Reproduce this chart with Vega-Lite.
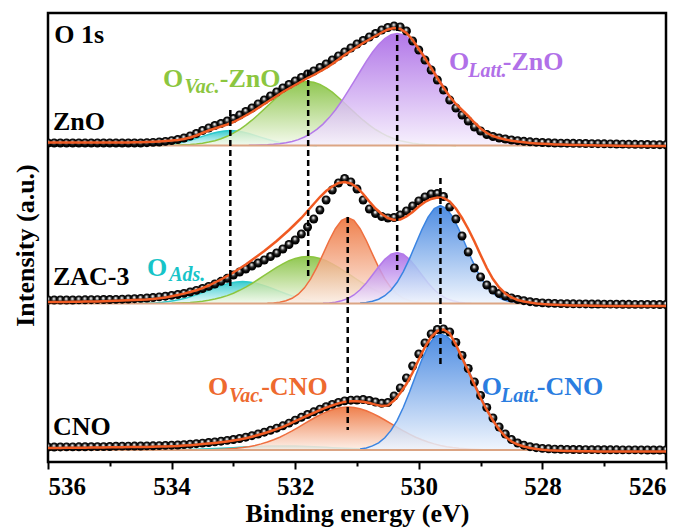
{
"$schema":"https://vega.github.io/schema/vega-lite/v6.json",
"width":618,"height":449,
"autosize":{"type":"none"},
"padding":{"left":48,"top":13,"right":24,"bottom":67},
"background":"white",
"config":{"view":{"stroke":"black","strokeWidth":2.5}},
"datasets":{
"fit":[
{"E":536,"ZnO":319.5,"ZAC":160,"CNO":14},{"E":535.9,"ZnO":319.5,"ZAC":160,"CNO":14.05},{"E":535.8,"ZnO":319.5,"ZAC":160.1,"CNO":14.1},{"E":535.7,"ZnO":319.5,"ZAC":160.1,"CNO":14.15},{"E":535.6,"ZnO":319.5,"ZAC":160.2,"CNO":14.2},{"E":535.5,"ZnO":319.5,"ZAC":160.3,"CNO":14.25},{"E":535.4,"ZnO":319.5,"ZAC":160.4,"CNO":14.3},{"E":535.3,"ZnO":319.5,"ZAC":160.5,"CNO":14.4},{"E":535.2,"ZnO":319.5,"ZAC":160.6,"CNO":14.5},{"E":535.1,"ZnO":319.5,"ZAC":160.8,"CNO":14.6},
{"E":535,"ZnO":319.5,"ZAC":161,"CNO":14.7},{"E":534.9,"ZnO":319.5,"ZAC":161.2,"CNO":14.8},{"E":534.8,"ZnO":319.5,"ZAC":161.4,"CNO":14.85},{"E":534.7,"ZnO":319.6,"ZAC":161.7,"CNO":14.9},{"E":534.6,"ZnO":319.7,"ZAC":162,"CNO":14.95},{"E":534.5,"ZnO":319.8,"ZAC":162.3,"CNO":15},{"E":534.4,"ZnO":320,"ZAC":162.5,"CNO":15.1},{"E":534.3,"ZnO":320.2,"ZAC":163,"CNO":15.2},{"E":534.2,"ZnO":320.5,"ZAC":163.7,"CNO":15.4},{"E":534.1,"ZnO":320.9,"ZAC":164.6,"CNO":15.6},
{"E":534,"ZnO":321.4,"ZAC":165.7,"CNO":15.8},{"E":533.9,"ZnO":322.1,"ZAC":167,"CNO":16},{"E":533.8,"ZnO":323.1,"ZAC":168.4,"CNO":16.4},{"E":533.7,"ZnO":324.5,"ZAC":170,"CNO":16.8},{"E":533.6,"ZnO":326.5,"ZAC":171.8,"CNO":17.3},{"E":533.5,"ZnO":329,"ZAC":173.8,"CNO":17.9},{"E":533.4,"ZnO":331.5,"ZAC":176.5,"CNO":18.5},{"E":533.3,"ZnO":333.5,"ZAC":179.5,"CNO":19.1},{"E":533.2,"ZnO":335.5,"ZAC":182.5,"CNO":19.8},{"E":533.1,"ZnO":337.5,"ZAC":186,"CNO":20.6},
{"E":533,"ZnO":340,"ZAC":189.5,"CNO":21.5},{"E":532.9,"ZnO":343,"ZAC":193.5,"CNO":22.5},{"E":532.8,"ZnO":346.5,"ZAC":197.5,"CNO":23.8},{"E":532.7,"ZnO":350,"ZAC":202,"CNO":25.3},{"E":532.6,"ZnO":354,"ZAC":206.5,"CNO":27},{"E":532.5,"ZnO":358,"ZAC":211,"CNO":28.8},{"E":532.4,"ZnO":362,"ZAC":216,"CNO":30.7},{"E":532.3,"ZnO":366,"ZAC":221,"CNO":32.8},{"E":532.2,"ZnO":370,"ZAC":226.5,"CNO":35.2},{"E":532.1,"ZnO":373.5,"ZAC":232,"CNO":37.9},
{"E":532,"ZnO":377,"ZAC":238,"CNO":40.8},{"E":531.9,"ZnO":380.5,"ZAC":244,"CNO":43.7},{"E":531.8,"ZnO":384,"ZAC":251,"CNO":46.5},{"E":531.7,"ZnO":387,"ZAC":258,"CNO":49.2},{"E":531.6,"ZnO":390.5,"ZAC":265,"CNO":51.8},{"E":531.5,"ZnO":394,"ZAC":271,"CNO":54.3},{"E":531.4,"ZnO":398,"ZAC":275.5,"CNO":56.6},{"E":531.3,"ZnO":402.5,"ZAC":279,"CNO":58.6},{"E":531.2,"ZnO":407,"ZAC":280,"CNO":60.1},{"E":531.1,"ZnO":411,"ZAC":278.5,"CNO":60.8},
{"E":531,"ZnO":415,"ZAC":274.5,"CNO":60.8},{"E":530.9,"ZnO":419,"ZAC":268,"CNO":60.2},{"E":530.8,"ZnO":422.5,"ZAC":260.5,"CNO":59},{"E":530.7,"ZnO":426,"ZAC":253.5,"CNO":57.4},{"E":530.6,"ZnO":429.5,"ZAC":248,"CNO":56},{"E":530.5,"ZnO":432.5,"ZAC":244,"CNO":56.6},{"E":530.4,"ZnO":434,"ZAC":242,"CNO":61.5},{"E":530.3,"ZnO":433,"ZAC":242.5,"CNO":69},{"E":530.2,"ZnO":429,"ZAC":245.5,"CNO":78},{"E":530.1,"ZnO":422,"ZAC":250,"CNO":89.5},
{"E":530,"ZnO":413,"ZAC":255.5,"CNO":102.5},{"E":529.9,"ZnO":404,"ZAC":260,"CNO":115},{"E":529.8,"ZnO":394,"ZAC":263,"CNO":125},{"E":529.7,"ZnO":384,"ZAC":264.5,"CNO":131},{"E":529.6,"ZnO":374.5,"ZAC":264,"CNO":132.5},{"E":529.5,"ZnO":365.5,"ZAC":260.5,"CNO":128.5},{"E":529.4,"ZnO":358,"ZAC":253.5,"CNO":117.5},{"E":529.3,"ZnO":352,"ZAC":244,"CNO":104},{"E":529.2,"ZnO":346,"ZAC":233,"CNO":91},{"E":529.1,"ZnO":339.5,"ZAC":220.5,"CNO":77.5},
{"E":529,"ZnO":333.5,"ZAC":207,"CNO":64},{"E":528.9,"ZnO":329,"ZAC":194,"CNO":52},{"E":528.8,"ZnO":326,"ZAC":183,"CNO":41.5},{"E":528.7,"ZnO":324,"ZAC":174.5,"CNO":32.5},{"E":528.6,"ZnO":322.5,"ZAC":168.5,"CNO":25.5},{"E":528.5,"ZnO":321.3,"ZAC":164.5,"CNO":20.5},{"E":528.4,"ZnO":320.4,"ZAC":162,"CNO":17.5},{"E":528.3,"ZnO":319.7,"ZAC":160.5,"CNO":15.5},{"E":528.2,"ZnO":319.1,"ZAC":159.4,"CNO":14},{"E":528.1,"ZnO":318.6,"ZAC":158.6,"CNO":13},
{"E":528,"ZnO":318.2,"ZAC":158,"CNO":12.3},{"E":527.9,"ZnO":317.9,"ZAC":157.6,"CNO":11.8},{"E":527.8,"ZnO":317.6,"ZAC":157.3,"CNO":11.5},{"E":527.7,"ZnO":317.4,"ZAC":157,"CNO":11.2},{"E":527.6,"ZnO":317.2,"ZAC":156.8,"CNO":11},{"E":527.5,"ZnO":317,"ZAC":156.6,"CNO":10.9},{"E":527.4,"ZnO":316.9,"ZAC":156.5,"CNO":10.8},{"E":527.3,"ZnO":316.8,"ZAC":156.4,"CNO":10.7},{"E":527.2,"ZnO":316.7,"ZAC":156.3,"CNO":10.65},{"E":527.1,"ZnO":316.6,"ZAC":156.2,"CNO":10.6},
{"E":527,"ZnO":316.5,"ZAC":156.1,"CNO":10.55},{"E":526.9,"ZnO":316.4,"ZAC":156,"CNO":10.5},{"E":526.8,"ZnO":316.3,"ZAC":156,"CNO":10.5},{"E":526.7,"ZnO":316.2,"ZAC":156,"CNO":10.5},{"E":526.6,"ZnO":316.1,"ZAC":156,"CNO":10.5},{"E":526.5,"ZnO":316,"ZAC":156,"CNO":10.5},{"E":526.4,"ZnO":316,"ZAC":156,"CNO":10.5},{"E":526.3,"ZnO":316,"ZAC":156,"CNO":10.5},{"E":526.2,"ZnO":316,"ZAC":156,"CNO":10.5},{"E":526.1,"ZnO":316,"ZAC":156,"CNO":10.5},{"E":526,"ZnO":316,"ZAC":156,"CNO":10.5}
],
"obs":[
{"E":536,"ZnO":319,"ZAC":162,"CNO":15},{"E":535.9,"ZnO":319,"ZAC":162,"CNO":15},{"E":535.8,"ZnO":319,"ZAC":162,"CNO":15.05},{"E":535.7,"ZnO":319,"ZAC":162,"CNO":15.1},{"E":535.6,"ZnO":319,"ZAC":162,"CNO":15.15},{"E":535.5,"ZnO":319,"ZAC":162.1,"CNO":15.2},{"E":535.4,"ZnO":319,"ZAC":162.2,"CNO":15.25},{"E":535.3,"ZnO":319,"ZAC":162.3,"CNO":15.3},{"E":535.2,"ZnO":319,"ZAC":162.4,"CNO":15.35},{"E":535.1,"ZnO":319,"ZAC":162.5,"CNO":15.4},
{"E":535,"ZnO":319,"ZAC":162.5,"CNO":15.5},{"E":534.9,"ZnO":319,"ZAC":162.6,"CNO":15.8},{"E":534.8,"ZnO":319,"ZAC":162.8,"CNO":15.85},{"E":534.7,"ZnO":319,"ZAC":163,"CNO":15.9},{"E":534.6,"ZnO":319,"ZAC":163.3,"CNO":15.95},{"E":534.5,"ZnO":319,"ZAC":163.6,"CNO":16},{"E":534.4,"ZnO":319.3,"ZAC":164,"CNO":16.1},{"E":534.3,"ZnO":319.6,"ZAC":164.5,"CNO":16.2},{"E":534.2,"ZnO":320,"ZAC":165.1,"CNO":16.4},{"E":534.1,"ZnO":320.6,"ZAC":165.8,"CNO":16.6},
{"E":534,"ZnO":321.4,"ZAC":166.6,"CNO":16.8},{"E":533.9,"ZnO":322.5,"ZAC":167.5,"CNO":17},{"E":533.8,"ZnO":324,"ZAC":168.6,"CNO":17.4},{"E":533.7,"ZnO":326,"ZAC":170,"CNO":17.8},{"E":533.6,"ZnO":328.5,"ZAC":171.6,"CNO":18.3},{"E":533.5,"ZnO":331.5,"ZAC":173.5,"CNO":18.9},{"E":533.4,"ZnO":334,"ZAC":175.6,"CNO":19.5},{"E":533.3,"ZnO":336.5,"ZAC":178,"CNO":20.1},{"E":533.2,"ZnO":338.5,"ZAC":180.7,"CNO":20.8},{"E":533.1,"ZnO":341,"ZAC":183.7,"CNO":21.6},
{"E":533,"ZnO":343.5,"ZAC":187,"CNO":22.5},{"E":532.9,"ZnO":347,"ZAC":190,"CNO":23.5},{"E":532.8,"ZnO":350.5,"ZAC":193,"CNO":24.8},{"E":532.7,"ZnO":354,"ZAC":196,"CNO":26.3},{"E":532.6,"ZnO":358,"ZAC":199,"CNO":28},{"E":532.5,"ZnO":362,"ZAC":202,"CNO":29.8},{"E":532.4,"ZnO":366,"ZAC":205.5,"CNO":31.7},{"E":532.3,"ZnO":370,"ZAC":209,"CNO":33.8},{"E":532.2,"ZnO":374,"ZAC":213,"CNO":36.2},{"E":532.1,"ZnO":377.5,"ZAC":217.5,"CNO":38.9},
{"E":532,"ZnO":381,"ZAC":222,"CNO":41.8},{"E":531.9,"ZnO":384.5,"ZAC":228,"CNO":44.7},{"E":531.8,"ZnO":388,"ZAC":235,"CNO":47.5},{"E":531.7,"ZnO":391,"ZAC":243,"CNO":50.2},{"E":531.6,"ZnO":394.5,"ZAC":252,"CNO":52.8},{"E":531.5,"ZnO":398,"ZAC":262,"CNO":55.3},{"E":531.4,"ZnO":402,"ZAC":272,"CNO":57.6},{"E":531.3,"ZnO":406,"ZAC":279,"CNO":59.6},{"E":531.2,"ZnO":410,"ZAC":283.5,"CNO":61.1},{"E":531.1,"ZnO":414,"ZAC":280,"CNO":61.8},
{"E":531,"ZnO":418,"ZAC":273,"CNO":62},{"E":530.9,"ZnO":421.5,"ZAC":262,"CNO":62.5},{"E":530.8,"ZnO":425,"ZAC":253,"CNO":61.5},{"E":530.7,"ZnO":428.5,"ZAC":248.5,"CNO":60},{"E":530.6,"ZnO":432,"ZAC":245.5,"CNO":58.7},{"E":530.5,"ZnO":434.5,"ZAC":244,"CNO":59.5},{"E":530.4,"ZnO":436,"ZAC":244.5,"CNO":66},{"E":530.3,"ZnO":435,"ZAC":247,"CNO":74},{"E":530.2,"ZnO":431,"ZAC":251,"CNO":84},{"E":530.1,"ZnO":421,"ZAC":256,"CNO":96},
{"E":530,"ZnO":412,"ZAC":261,"CNO":108},{"E":529.9,"ZnO":402,"ZAC":265,"CNO":119},{"E":529.8,"ZnO":392,"ZAC":268,"CNO":128},{"E":529.7,"ZnO":382,"ZAC":268.5,"CNO":132.5},{"E":529.6,"ZnO":372,"ZAC":265.5,"CNO":133},{"E":529.5,"ZnO":362,"ZAC":255,"CNO":130},{"E":529.4,"ZnO":354,"ZAC":243,"CNO":119.5},{"E":529.3,"ZnO":347,"ZAC":226,"CNO":106.5},{"E":529.2,"ZnO":341,"ZAC":210,"CNO":93.5},{"E":529.1,"ZnO":335,"ZAC":194,"CNO":80},
{"E":529,"ZnO":331,"ZAC":185,"CNO":66.5},{"E":528.9,"ZnO":327.5,"ZAC":177,"CNO":54.5},{"E":528.8,"ZnO":325.5,"ZAC":172,"CNO":44},{"E":528.7,"ZnO":324,"ZAC":168.5,"CNO":35},{"E":528.6,"ZnO":323,"ZAC":166,"CNO":28},{"E":528.5,"ZnO":322,"ZAC":164,"CNO":22.5},{"E":528.4,"ZnO":321.3,"ZAC":162.5,"CNO":19},{"E":528.3,"ZnO":320.7,"ZAC":161.3,"CNO":16.8},{"E":528.2,"ZnO":320.2,"ZAC":160.3,"CNO":15.3},{"E":528.1,"ZnO":319.8,"ZAC":159.6,"CNO":14.3},
{"E":528,"ZnO":319.5,"ZAC":159.1,"CNO":13.6},{"E":527.9,"ZnO":319.2,"ZAC":158.8,"CNO":13.2},{"E":527.8,"ZnO":319,"ZAC":158.6,"CNO":12.9},{"E":527.7,"ZnO":318.9,"ZAC":158.4,"CNO":12.7},{"E":527.6,"ZnO":318.8,"ZAC":158.3,"CNO":12.6},{"E":527.5,"ZnO":318.7,"ZAC":158.2,"CNO":12.5},{"E":527.4,"ZnO":318.6,"ZAC":158.1,"CNO":12.45},{"E":527.3,"ZnO":318.5,"ZAC":158.05,"CNO":12.4},{"E":527.2,"ZnO":318.4,"ZAC":158,"CNO":12.35},{"E":527.1,"ZnO":318.3,"ZAC":157.95,"CNO":12.3},
{"E":527,"ZnO":318.2,"ZAC":157.9,"CNO":12.25},{"E":526.9,"ZnO":318.1,"ZAC":157.85,"CNO":12.2},{"E":526.8,"ZnO":318,"ZAC":157.8,"CNO":12.2},{"E":526.7,"ZnO":317.9,"ZAC":157.75,"CNO":12.15},{"E":526.6,"ZnO":317.8,"ZAC":157.7,"CNO":12.1},{"E":526.5,"ZnO":317.7,"ZAC":157.65,"CNO":12.1},{"E":526.4,"ZnO":317.6,"ZAC":157.6,"CNO":12.05},{"E":526.3,"ZnO":317.5,"ZAC":157.6,"CNO":12},{"E":526.2,"ZnO":317.4,"ZAC":157.55,"CNO":12},{"E":526.1,"ZnO":317.3,"ZAC":157.5,"CNO":12},{"E":526,"ZnO":317.2,"ZAC":157.5,"CNO":12}
],
"cmp":[
{"s":"ZnO","t":"ads","b":316.5,"E":534.45,"v":316.62},{"s":"ZnO","t":"ads","b":316.5,"E":534.35,"v":316.73},{"s":"ZnO","t":"ads","b":316.5,"E":534.25,"v":316.93},{"s":"ZnO","t":"ads","b":316.5,"E":534.15,"v":317.25},{"s":"ZnO","t":"ads","b":316.5,"E":534.05,"v":317.8},{"s":"ZnO","t":"ads","b":316.5,"E":533.95,"v":318.5},{"s":"ZnO","t":"ads","b":316.5,"E":533.85,"v":319.6},{"s":"ZnO","t":"ads","b":316.5,"E":533.75,"v":321},{"s":"ZnO","t":"ads","b":316.5,"E":533.65,"v":322.7},{"s":"ZnO","t":"ads","b":316.5,"E":533.55,"v":324.6},{"s":"ZnO","t":"ads","b":316.5,"E":533.45,"v":326.6},{"s":"ZnO","t":"ads","b":316.5,"E":533.35,"v":328.5},{"s":"ZnO","t":"ads","b":316.5,"E":533.25,"v":330.1},{"s":"ZnO","t":"ads","b":316.5,"E":533.15,"v":331.1},{"s":"ZnO","t":"ads","b":316.5,"E":533.05,"v":331.5},{"s":"ZnO","t":"ads","b":316.5,"E":532.95,"v":331.1},{"s":"ZnO","t":"ads","b":316.5,"E":532.85,"v":330.1},{"s":"ZnO","t":"ads","b":316.5,"E":532.75,"v":328.5},{"s":"ZnO","t":"ads","b":316.5,"E":532.65,"v":326.6},{"s":"ZnO","t":"ads","b":316.5,"E":532.55,"v":324.6},{"s":"ZnO","t":"ads","b":316.5,"E":532.45,"v":322.7},{"s":"ZnO","t":"ads","b":316.5,"E":532.35,"v":321},{"s":"ZnO","t":"ads","b":316.5,"E":532.25,"v":319.6},{"s":"ZnO","t":"ads","b":316.5,"E":532.15,"v":318.5},{"s":"ZnO","t":"ads","b":316.5,"E":532.05,"v":317.8},{"s":"ZnO","t":"ads","b":316.5,"E":531.95,"v":317.25},{"s":"ZnO","t":"ads","b":316.5,"E":531.85,"v":316.93},{"s":"ZnO","t":"ads","b":316.5,"E":531.75,"v":316.73},{"s":"ZnO","t":"ads","b":316.5,"E":531.65,"v":316.62},
{"s":"ZnO","t":"vac","b":316.5,"E":534.2,"v":316.6},{"s":"ZnO","t":"vac","b":316.5,"E":534.1,"v":316.65},{"s":"ZnO","t":"vac","b":316.5,"E":534,"v":316.75},{"s":"ZnO","t":"vac","b":316.5,"E":533.9,"v":316.9},{"s":"ZnO","t":"vac","b":316.5,"E":533.8,"v":317.2},{"s":"ZnO","t":"vac","b":316.5,"E":533.7,"v":317.5},{"s":"ZnO","t":"vac","b":316.5,"E":533.6,"v":318},{"s":"ZnO","t":"vac","b":316.5,"E":533.5,"v":318.8},{"s":"ZnO","t":"vac","b":316.5,"E":533.4,"v":319.9},{"s":"ZnO","t":"vac","b":316.5,"E":533.3,"v":321.3},{"s":"ZnO","t":"vac","b":316.5,"E":533.2,"v":323.2},{"s":"ZnO","t":"vac","b":316.5,"E":533.1,"v":325.7},{"s":"ZnO","t":"vac","b":316.5,"E":533,"v":328.8},{"s":"ZnO","t":"vac","b":316.5,"E":532.9,"v":332.5},{"s":"ZnO","t":"vac","b":316.5,"E":532.8,"v":336.8},{"s":"ZnO","t":"vac","b":316.5,"E":532.7,"v":341.8},{"s":"ZnO","t":"vac","b":316.5,"E":532.6,"v":347.2},{"s":"ZnO","t":"vac","b":316.5,"E":532.5,"v":353},{"s":"ZnO","t":"vac","b":316.5,"E":532.4,"v":358.8},{"s":"ZnO","t":"vac","b":316.5,"E":532.3,"v":364.5},{"s":"ZnO","t":"vac","b":316.5,"E":532.2,"v":369.8},{"s":"ZnO","t":"vac","b":316.5,"E":532.1,"v":374.2},{"s":"ZnO","t":"vac","b":316.5,"E":532,"v":377.6},{"s":"ZnO","t":"vac","b":316.5,"E":531.9,"v":379.8},{"s":"ZnO","t":"vac","b":316.5,"E":531.8,"v":380.5},{"s":"ZnO","t":"vac","b":316.5,"E":531.7,"v":379.8},{"s":"ZnO","t":"vac","b":316.5,"E":531.6,"v":377.6},{"s":"ZnO","t":"vac","b":316.5,"E":531.5,"v":374.2},{"s":"ZnO","t":"vac","b":316.5,"E":531.4,"v":369.8},{"s":"ZnO","t":"vac","b":316.5,"E":531.3,"v":364.5},{"s":"ZnO","t":"vac","b":316.5,"E":531.2,"v":358.8},{"s":"ZnO","t":"vac","b":316.5,"E":531.1,"v":353},{"s":"ZnO","t":"vac","b":316.5,"E":531,"v":347.2},{"s":"ZnO","t":"vac","b":316.5,"E":530.9,"v":341.8},{"s":"ZnO","t":"vac","b":316.5,"E":530.8,"v":336.8},{"s":"ZnO","t":"vac","b":316.5,"E":530.7,"v":332.5},{"s":"ZnO","t":"vac","b":316.5,"E":530.6,"v":328.8},{"s":"ZnO","t":"vac","b":316.5,"E":530.5,"v":325.7},{"s":"ZnO","t":"vac","b":316.5,"E":530.4,"v":323.2},{"s":"ZnO","t":"vac","b":316.5,"E":530.3,"v":321.3},{"s":"ZnO","t":"vac","b":316.5,"E":530.2,"v":319.9},{"s":"ZnO","t":"vac","b":316.5,"E":530.1,"v":318.8},{"s":"ZnO","t":"vac","b":316.5,"E":530,"v":318},{"s":"ZnO","t":"vac","b":316.5,"E":529.9,"v":317.5},{"s":"ZnO","t":"vac","b":316.5,"E":529.8,"v":317.2},{"s":"ZnO","t":"vac","b":316.5,"E":529.7,"v":316.9},{"s":"ZnO","t":"vac","b":316.5,"E":529.6,"v":316.75},{"s":"ZnO","t":"vac","b":316.5,"E":529.5,"v":316.65},{"s":"ZnO","t":"vac","b":316.5,"E":529.4,"v":316.6},
{"s":"ZnO","t":"latt","b":316.5,"E":532.75,"v":316.66},{"s":"ZnO","t":"latt","b":316.5,"E":532.65,"v":316.76},{"s":"ZnO","t":"latt","b":316.5,"E":532.55,"v":316.94},{"s":"ZnO","t":"latt","b":316.5,"E":532.45,"v":317.21},{"s":"ZnO","t":"latt","b":316.5,"E":532.35,"v":317.63},{"s":"ZnO","t":"latt","b":316.5,"E":532.25,"v":318.27},{"s":"ZnO","t":"latt","b":316.5,"E":532.15,"v":319.2},{"s":"ZnO","t":"latt","b":316.5,"E":532.05,"v":320.55},{"s":"ZnO","t":"latt","b":316.5,"E":531.95,"v":322.4},{"s":"ZnO","t":"latt","b":316.5,"E":531.85,"v":325},{"s":"ZnO","t":"latt","b":316.5,"E":531.75,"v":328.3},{"s":"ZnO","t":"latt","b":316.5,"E":531.65,"v":332.6},{"s":"ZnO","t":"latt","b":316.5,"E":531.55,"v":337.9},{"s":"ZnO","t":"latt","b":316.5,"E":531.45,"v":344.4},{"s":"ZnO","t":"latt","b":316.5,"E":531.35,"v":352},{"s":"ZnO","t":"latt","b":316.5,"E":531.25,"v":360.7},{"s":"ZnO","t":"latt","b":316.5,"E":531.15,"v":370.3},{"s":"ZnO","t":"latt","b":316.5,"E":531.05,"v":380.3},{"s":"ZnO","t":"latt","b":316.5,"E":530.95,"v":390.5},{"s":"ZnO","t":"latt","b":316.5,"E":530.85,"v":400.6},{"s":"ZnO","t":"latt","b":316.5,"E":530.75,"v":409.7},{"s":"ZnO","t":"latt","b":316.5,"E":530.65,"v":417.5},{"s":"ZnO","t":"latt","b":316.5,"E":530.55,"v":423.5},{"s":"ZnO","t":"latt","b":316.5,"E":530.45,"v":427.2},{"s":"ZnO","t":"latt","b":316.5,"E":530.35,"v":428.5},{"s":"ZnO","t":"latt","b":316.5,"E":530.25,"v":427.2},{"s":"ZnO","t":"latt","b":316.5,"E":530.15,"v":423.5},{"s":"ZnO","t":"latt","b":316.5,"E":530.05,"v":417.5},{"s":"ZnO","t":"latt","b":316.5,"E":529.95,"v":409.7},{"s":"ZnO","t":"latt","b":316.5,"E":529.85,"v":400.6},{"s":"ZnO","t":"latt","b":316.5,"E":529.75,"v":390.5},{"s":"ZnO","t":"latt","b":316.5,"E":529.65,"v":380.3},{"s":"ZnO","t":"latt","b":316.5,"E":529.55,"v":370.3},{"s":"ZnO","t":"latt","b":316.5,"E":529.45,"v":360.7},{"s":"ZnO","t":"latt","b":316.5,"E":529.35,"v":352},{"s":"ZnO","t":"latt","b":316.5,"E":529.25,"v":344.4},{"s":"ZnO","t":"latt","b":316.5,"E":529.15,"v":337.9},{"s":"ZnO","t":"latt","b":316.5,"E":529.05,"v":332.6},{"s":"ZnO","t":"latt","b":316.5,"E":528.95,"v":328.3},{"s":"ZnO","t":"latt","b":316.5,"E":528.85,"v":325},{"s":"ZnO","t":"latt","b":316.5,"E":528.75,"v":322.4},{"s":"ZnO","t":"latt","b":316.5,"E":528.65,"v":320.55},{"s":"ZnO","t":"latt","b":316.5,"E":528.55,"v":319.2},{"s":"ZnO","t":"latt","b":316.5,"E":528.45,"v":318.27},{"s":"ZnO","t":"latt","b":316.5,"E":528.35,"v":317.63},{"s":"ZnO","t":"latt","b":316.5,"E":528.25,"v":317.21},{"s":"ZnO","t":"latt","b":316.5,"E":528.15,"v":316.94},{"s":"ZnO","t":"latt","b":316.5,"E":528.05,"v":316.76},{"s":"ZnO","t":"latt","b":316.5,"E":527.95,"v":316.66},
{"s":"ZAC","t":"ads","b":158.5,"E":534.55,"v":158.7},{"s":"ZAC","t":"ads","b":158.5,"E":534.45,"v":158.8},{"s":"ZAC","t":"ads","b":158.5,"E":534.35,"v":159},{"s":"ZAC","t":"ads","b":158.5,"E":534.25,"v":159.3},{"s":"ZAC","t":"ads","b":158.5,"E":534.15,"v":159.8},{"s":"ZAC","t":"ads","b":158.5,"E":534.05,"v":160.5},{"s":"ZAC","t":"ads","b":158.5,"E":533.95,"v":161.4},{"s":"ZAC","t":"ads","b":158.5,"E":533.85,"v":162.7},{"s":"ZAC","t":"ads","b":158.5,"E":533.75,"v":164.2},{"s":"ZAC","t":"ads","b":158.5,"E":533.65,"v":166.1},{"s":"ZAC","t":"ads","b":158.5,"E":533.55,"v":168.2},{"s":"ZAC","t":"ads","b":158.5,"E":533.45,"v":170.6},{"s":"ZAC","t":"ads","b":158.5,"E":533.35,"v":173},{"s":"ZAC","t":"ads","b":158.5,"E":533.25,"v":175.4},{"s":"ZAC","t":"ads","b":158.5,"E":533.15,"v":177.4},{"s":"ZAC","t":"ads","b":158.5,"E":533.05,"v":179.1},{"s":"ZAC","t":"ads","b":158.5,"E":532.95,"v":180.1},{"s":"ZAC","t":"ads","b":158.5,"E":532.85,"v":180.5},{"s":"ZAC","t":"ads","b":158.5,"E":532.75,"v":180.1},{"s":"ZAC","t":"ads","b":158.5,"E":532.65,"v":179.1},{"s":"ZAC","t":"ads","b":158.5,"E":532.55,"v":177.4},{"s":"ZAC","t":"ads","b":158.5,"E":532.45,"v":175.4},{"s":"ZAC","t":"ads","b":158.5,"E":532.35,"v":173},{"s":"ZAC","t":"ads","b":158.5,"E":532.25,"v":170.6},{"s":"ZAC","t":"ads","b":158.5,"E":532.15,"v":168.2},{"s":"ZAC","t":"ads","b":158.5,"E":532.05,"v":166.1},{"s":"ZAC","t":"ads","b":158.5,"E":531.95,"v":164.2},{"s":"ZAC","t":"ads","b":158.5,"E":531.85,"v":162.7},{"s":"ZAC","t":"ads","b":158.5,"E":531.75,"v":161.4},{"s":"ZAC","t":"ads","b":158.5,"E":531.65,"v":160.5},{"s":"ZAC","t":"ads","b":158.5,"E":531.55,"v":159.8},{"s":"ZAC","t":"ads","b":158.5,"E":531.45,"v":159.3},{"s":"ZAC","t":"ads","b":158.5,"E":531.35,"v":159},{"s":"ZAC","t":"ads","b":158.5,"E":531.25,"v":158.8},{"s":"ZAC","t":"ads","b":158.5,"E":531.15,"v":158.7},
{"s":"ZAC","t":"vac","b":158.5,"E":534,"v":158.8},{"s":"ZAC","t":"vac","b":158.5,"E":533.9,"v":159},{"s":"ZAC","t":"vac","b":158.5,"E":533.8,"v":159.2},{"s":"ZAC","t":"vac","b":158.5,"E":533.7,"v":159.5},{"s":"ZAC","t":"vac","b":158.5,"E":533.6,"v":160.1},{"s":"ZAC","t":"vac","b":158.5,"E":533.5,"v":160.8},{"s":"ZAC","t":"vac","b":158.5,"E":533.4,"v":161.7},{"s":"ZAC","t":"vac","b":158.5,"E":533.3,"v":162.9},{"s":"ZAC","t":"vac","b":158.5,"E":533.2,"v":164.5},{"s":"ZAC","t":"vac","b":158.5,"E":533.1,"v":166.4},{"s":"ZAC","t":"vac","b":158.5,"E":533,"v":168.8},{"s":"ZAC","t":"vac","b":158.5,"E":532.9,"v":171.7},{"s":"ZAC","t":"vac","b":158.5,"E":532.8,"v":174.9},{"s":"ZAC","t":"vac","b":158.5,"E":532.7,"v":178.5},{"s":"ZAC","t":"vac","b":158.5,"E":532.6,"v":182.5},{"s":"ZAC","t":"vac","b":158.5,"E":532.5,"v":186.6},{"s":"ZAC","t":"vac","b":158.5,"E":532.4,"v":190.6},{"s":"ZAC","t":"vac","b":158.5,"E":532.3,"v":194.6},{"s":"ZAC","t":"vac","b":158.5,"E":532.2,"v":198.2},{"s":"ZAC","t":"vac","b":158.5,"E":532.1,"v":201.3},{"s":"ZAC","t":"vac","b":158.5,"E":532,"v":203.6},{"s":"ZAC","t":"vac","b":158.5,"E":531.9,"v":205},{"s":"ZAC","t":"vac","b":158.5,"E":531.8,"v":205.5},{"s":"ZAC","t":"vac","b":158.5,"E":531.7,"v":205},{"s":"ZAC","t":"vac","b":158.5,"E":531.6,"v":203.6},{"s":"ZAC","t":"vac","b":158.5,"E":531.5,"v":201.3},{"s":"ZAC","t":"vac","b":158.5,"E":531.4,"v":198.2},{"s":"ZAC","t":"vac","b":158.5,"E":531.3,"v":194.6},{"s":"ZAC","t":"vac","b":158.5,"E":531.2,"v":190.6},{"s":"ZAC","t":"vac","b":158.5,"E":531.1,"v":186.6},{"s":"ZAC","t":"vac","b":158.5,"E":531,"v":182.5},{"s":"ZAC","t":"vac","b":158.5,"E":530.9,"v":178.5},{"s":"ZAC","t":"vac","b":158.5,"E":530.8,"v":174.9},{"s":"ZAC","t":"vac","b":158.5,"E":530.7,"v":171.7},{"s":"ZAC","t":"vac","b":158.5,"E":530.6,"v":168.8},{"s":"ZAC","t":"vac","b":158.5,"E":530.5,"v":166.4},{"s":"ZAC","t":"vac","b":158.5,"E":530.4,"v":164.5},{"s":"ZAC","t":"vac","b":158.5,"E":530.3,"v":162.9},{"s":"ZAC","t":"vac","b":158.5,"E":530.2,"v":161.7},{"s":"ZAC","t":"vac","b":158.5,"E":530.1,"v":160.8},{"s":"ZAC","t":"vac","b":158.5,"E":530,"v":160.1},{"s":"ZAC","t":"vac","b":158.5,"E":529.9,"v":159.5},{"s":"ZAC","t":"vac","b":158.5,"E":529.8,"v":159.2},{"s":"ZAC","t":"vac","b":158.5,"E":529.7,"v":159},{"s":"ZAC","t":"vac","b":158.5,"E":529.6,"v":158.8},
{"s":"ZAC","t":"cvac","b":158.5,"E":532.45,"v":158.75},{"s":"ZAC","t":"cvac","b":158.5,"E":532.35,"v":159.1},{"s":"ZAC","t":"cvac","b":158.5,"E":532.25,"v":159.8},{"s":"ZAC","t":"cvac","b":158.5,"E":532.15,"v":161.2},{"s":"ZAC","t":"cvac","b":158.5,"E":532.05,"v":163.7},{"s":"ZAC","t":"cvac","b":158.5,"E":531.95,"v":167.8},{"s":"ZAC","t":"cvac","b":158.5,"E":531.85,"v":174.2},{"s":"ZAC","t":"cvac","b":158.5,"E":531.75,"v":183.2},{"s":"ZAC","t":"cvac","b":158.5,"E":531.65,"v":194.6},{"s":"ZAC","t":"cvac","b":158.5,"E":531.55,"v":207.9},{"s":"ZAC","t":"cvac","b":158.5,"E":531.45,"v":221.5},{"s":"ZAC","t":"cvac","b":158.5,"E":531.35,"v":233.3},{"s":"ZAC","t":"cvac","b":158.5,"E":531.25,"v":241.6},{"s":"ZAC","t":"cvac","b":158.5,"E":531.15,"v":244.5},{"s":"ZAC","t":"cvac","b":158.5,"E":531.05,"v":241.6},{"s":"ZAC","t":"cvac","b":158.5,"E":530.95,"v":233.3},{"s":"ZAC","t":"cvac","b":158.5,"E":530.85,"v":221.5},{"s":"ZAC","t":"cvac","b":158.5,"E":530.75,"v":207.9},{"s":"ZAC","t":"cvac","b":158.5,"E":530.65,"v":194.6},{"s":"ZAC","t":"cvac","b":158.5,"E":530.55,"v":183.2},{"s":"ZAC","t":"cvac","b":158.5,"E":530.45,"v":174.2},{"s":"ZAC","t":"cvac","b":158.5,"E":530.35,"v":167.8},{"s":"ZAC","t":"cvac","b":158.5,"E":530.25,"v":163.7},{"s":"ZAC","t":"cvac","b":158.5,"E":530.15,"v":161.2},{"s":"ZAC","t":"cvac","b":158.5,"E":530.05,"v":159.8},{"s":"ZAC","t":"cvac","b":158.5,"E":529.95,"v":159.1},{"s":"ZAC","t":"cvac","b":158.5,"E":529.85,"v":158.75},
{"s":"ZAC","t":"latt","b":158.5,"E":531.55,"v":158.8},{"s":"ZAC","t":"latt","b":158.5,"E":531.45,"v":159.1},{"s":"ZAC","t":"latt","b":158.5,"E":531.35,"v":159.8},{"s":"ZAC","t":"latt","b":158.5,"E":531.25,"v":161.2},{"s":"ZAC","t":"latt","b":158.5,"E":531.15,"v":163.4},{"s":"ZAC","t":"latt","b":158.5,"E":531.05,"v":167},{"s":"ZAC","t":"latt","b":158.5,"E":530.95,"v":172.2},{"s":"ZAC","t":"latt","b":158.5,"E":530.85,"v":179},{"s":"ZAC","t":"latt","b":158.5,"E":530.75,"v":187},{"s":"ZAC","t":"latt","b":158.5,"E":530.65,"v":195.2},{"s":"ZAC","t":"latt","b":158.5,"E":530.55,"v":202.6},{"s":"ZAC","t":"latt","b":158.5,"E":530.45,"v":207.7},{"s":"ZAC","t":"latt","b":158.5,"E":530.35,"v":209.5},{"s":"ZAC","t":"latt","b":158.5,"E":530.25,"v":207.7},{"s":"ZAC","t":"latt","b":158.5,"E":530.15,"v":202.6},{"s":"ZAC","t":"latt","b":158.5,"E":530.05,"v":195.2},{"s":"ZAC","t":"latt","b":158.5,"E":529.95,"v":187},{"s":"ZAC","t":"latt","b":158.5,"E":529.85,"v":179},{"s":"ZAC","t":"latt","b":158.5,"E":529.75,"v":172.2},{"s":"ZAC","t":"latt","b":158.5,"E":529.65,"v":167},{"s":"ZAC","t":"latt","b":158.5,"E":529.55,"v":163.4},{"s":"ZAC","t":"latt","b":158.5,"E":529.45,"v":161.2},{"s":"ZAC","t":"latt","b":158.5,"E":529.35,"v":159.8},{"s":"ZAC","t":"latt","b":158.5,"E":529.25,"v":159.1},{"s":"ZAC","t":"latt","b":158.5,"E":529.15,"v":158.8},
{"s":"ZAC","t":"clatt","b":158.5,"E":530.95,"v":159},{"s":"ZAC","t":"clatt","b":158.5,"E":530.85,"v":159.6},{"s":"ZAC","t":"clatt","b":158.5,"E":530.75,"v":160.8},{"s":"ZAC","t":"clatt","b":158.5,"E":530.65,"v":162.8},{"s":"ZAC","t":"clatt","b":158.5,"E":530.55,"v":166.3},{"s":"ZAC","t":"clatt","b":158.5,"E":530.45,"v":171.7},{"s":"ZAC","t":"clatt","b":158.5,"E":530.35,"v":179.7},{"s":"ZAC","t":"clatt","b":158.5,"E":530.25,"v":190.4},{"s":"ZAC","t":"clatt","b":158.5,"E":530.15,"v":203.4},{"s":"ZAC","t":"clatt","b":158.5,"E":530.05,"v":218},{"s":"ZAC","t":"clatt","b":158.5,"E":529.95,"v":232.5},{"s":"ZAC","t":"clatt","b":158.5,"E":529.85,"v":244.9},{"s":"ZAC","t":"clatt","b":158.5,"E":529.75,"v":253.5},{"s":"ZAC","t":"clatt","b":158.5,"E":529.65,"v":256.5},{"s":"ZAC","t":"clatt","b":158.5,"E":529.55,"v":253.5},{"s":"ZAC","t":"clatt","b":158.5,"E":529.45,"v":244.9},{"s":"ZAC","t":"clatt","b":158.5,"E":529.35,"v":232.5},{"s":"ZAC","t":"clatt","b":158.5,"E":529.25,"v":218},{"s":"ZAC","t":"clatt","b":158.5,"E":529.15,"v":203.4},{"s":"ZAC","t":"clatt","b":158.5,"E":529.05,"v":190.4},{"s":"ZAC","t":"clatt","b":158.5,"E":528.95,"v":179.7},{"s":"ZAC","t":"clatt","b":158.5,"E":528.85,"v":171.7},{"s":"ZAC","t":"clatt","b":158.5,"E":528.75,"v":166.3},{"s":"ZAC","t":"clatt","b":158.5,"E":528.65,"v":162.8},{"s":"ZAC","t":"clatt","b":158.5,"E":528.55,"v":160.8},{"s":"ZAC","t":"clatt","b":158.5,"E":528.45,"v":159.6},{"s":"ZAC","t":"clatt","b":158.5,"E":528.35,"v":159},
{"s":"CNO","t":"ads","b":12,"E":534.1,"v":12.2},{"s":"CNO","t":"ads","b":12,"E":534,"v":12.3},{"s":"CNO","t":"ads","b":12,"E":533.9,"v":12.4},{"s":"CNO","t":"ads","b":12,"E":533.8,"v":12.5},{"s":"CNO","t":"ads","b":12,"E":533.7,"v":12.6},{"s":"CNO","t":"ads","b":12,"E":533.6,"v":12.8},{"s":"CNO","t":"ads","b":12,"E":533.5,"v":13},{"s":"CNO","t":"ads","b":12,"E":533.4,"v":13.2},{"s":"CNO","t":"ads","b":12,"E":533.3,"v":13.5},{"s":"CNO","t":"ads","b":12,"E":533.2,"v":13.7},{"s":"CNO","t":"ads","b":12,"E":533.1,"v":14},{"s":"CNO","t":"ads","b":12,"E":533,"v":14.3},{"s":"CNO","t":"ads","b":12,"E":532.9,"v":14.7},{"s":"CNO","t":"ads","b":12,"E":532.8,"v":15},{"s":"CNO","t":"ads","b":12,"E":532.7,"v":15.2},{"s":"CNO","t":"ads","b":12,"E":532.6,"v":15.5},{"s":"CNO","t":"ads","b":12,"E":532.5,"v":15.7},{"s":"CNO","t":"ads","b":12,"E":532.4,"v":15.9},{"s":"CNO","t":"ads","b":12,"E":532.3,"v":16},{"s":"CNO","t":"ads","b":12,"E":532.2,"v":16},{"s":"CNO","t":"ads","b":12,"E":532.1,"v":16},{"s":"CNO","t":"ads","b":12,"E":532,"v":15.9},{"s":"CNO","t":"ads","b":12,"E":531.9,"v":15.7},{"s":"CNO","t":"ads","b":12,"E":531.8,"v":15.5},{"s":"CNO","t":"ads","b":12,"E":531.7,"v":15.2},{"s":"CNO","t":"ads","b":12,"E":531.6,"v":15},{"s":"CNO","t":"ads","b":12,"E":531.5,"v":14.7},{"s":"CNO","t":"ads","b":12,"E":531.4,"v":14.3},{"s":"CNO","t":"ads","b":12,"E":531.3,"v":14},{"s":"CNO","t":"ads","b":12,"E":531.2,"v":13.7},{"s":"CNO","t":"ads","b":12,"E":531.1,"v":13.5},{"s":"CNO","t":"ads","b":12,"E":531,"v":13.2},{"s":"CNO","t":"ads","b":12,"E":530.9,"v":13},{"s":"CNO","t":"ads","b":12,"E":530.8,"v":12.8},{"s":"CNO","t":"ads","b":12,"E":530.7,"v":12.6},{"s":"CNO","t":"ads","b":12,"E":530.6,"v":12.5},{"s":"CNO","t":"ads","b":12,"E":530.5,"v":12.4},{"s":"CNO","t":"ads","b":12,"E":530.4,"v":12.3},{"s":"CNO","t":"ads","b":12,"E":530.3,"v":12.2},
{"s":"CNO","t":"cvac","b":12,"E":533.35,"v":12.3},{"s":"CNO","t":"cvac","b":12,"E":533.25,"v":12.5},{"s":"CNO","t":"cvac","b":12,"E":533.15,"v":12.8},{"s":"CNO","t":"cvac","b":12,"E":533.05,"v":13.2},{"s":"CNO","t":"cvac","b":12,"E":532.95,"v":13.7},{"s":"CNO","t":"cvac","b":12,"E":532.85,"v":14.4},{"s":"CNO","t":"cvac","b":12,"E":532.75,"v":15.3},{"s":"CNO","t":"cvac","b":12,"E":532.65,"v":16.5},{"s":"CNO","t":"cvac","b":12,"E":532.55,"v":18.1},{"s":"CNO","t":"cvac","b":12,"E":532.45,"v":20},{"s":"CNO","t":"cvac","b":12,"E":532.35,"v":22.2},{"s":"CNO","t":"cvac","b":12,"E":532.25,"v":24.8},{"s":"CNO","t":"cvac","b":12,"E":532.15,"v":27.8},{"s":"CNO","t":"cvac","b":12,"E":532.05,"v":31.1},{"s":"CNO","t":"cvac","b":12,"E":531.95,"v":34.7},{"s":"CNO","t":"cvac","b":12,"E":531.85,"v":38.4},{"s":"CNO","t":"cvac","b":12,"E":531.75,"v":42},{"s":"CNO","t":"cvac","b":12,"E":531.65,"v":45.5},{"s":"CNO","t":"cvac","b":12,"E":531.55,"v":48.6},{"s":"CNO","t":"cvac","b":12,"E":531.45,"v":51.3},{"s":"CNO","t":"cvac","b":12,"E":531.35,"v":53.3},{"s":"CNO","t":"cvac","b":12,"E":531.25,"v":54.6},{"s":"CNO","t":"cvac","b":12,"E":531.15,"v":55},{"s":"CNO","t":"cvac","b":12,"E":531.05,"v":54.6},{"s":"CNO","t":"cvac","b":12,"E":530.95,"v":53.3},{"s":"CNO","t":"cvac","b":12,"E":530.85,"v":51.3},{"s":"CNO","t":"cvac","b":12,"E":530.75,"v":48.6},{"s":"CNO","t":"cvac","b":12,"E":530.65,"v":45.5},{"s":"CNO","t":"cvac","b":12,"E":530.55,"v":42},{"s":"CNO","t":"cvac","b":12,"E":530.45,"v":38.4},{"s":"CNO","t":"cvac","b":12,"E":530.35,"v":34.7},{"s":"CNO","t":"cvac","b":12,"E":530.25,"v":31.1},{"s":"CNO","t":"cvac","b":12,"E":530.15,"v":27.8},{"s":"CNO","t":"cvac","b":12,"E":530.05,"v":24.8},{"s":"CNO","t":"cvac","b":12,"E":529.95,"v":22.2},{"s":"CNO","t":"cvac","b":12,"E":529.85,"v":20},{"s":"CNO","t":"cvac","b":12,"E":529.75,"v":18.1},{"s":"CNO","t":"cvac","b":12,"E":529.65,"v":16.5},{"s":"CNO","t":"cvac","b":12,"E":529.55,"v":15.3},{"s":"CNO","t":"cvac","b":12,"E":529.45,"v":14.4},{"s":"CNO","t":"cvac","b":12,"E":529.35,"v":13.7},{"s":"CNO","t":"cvac","b":12,"E":529.25,"v":13.2},{"s":"CNO","t":"cvac","b":12,"E":529.15,"v":12.8},{"s":"CNO","t":"cvac","b":12,"E":529.05,"v":12.5},{"s":"CNO","t":"cvac","b":12,"E":528.95,"v":12.3},
{"s":"CNO","t":"clatt","b":12,"E":530.95,"v":13},{"s":"CNO","t":"clatt","b":12,"E":530.85,"v":14.1},{"s":"CNO","t":"clatt","b":12,"E":530.75,"v":16.1},{"s":"CNO","t":"clatt","b":12,"E":530.65,"v":19.2},{"s":"CNO","t":"clatt","b":12,"E":530.55,"v":24.2},{"s":"CNO","t":"clatt","b":12,"E":530.45,"v":31.6},{"s":"CNO","t":"clatt","b":12,"E":530.35,"v":41.7},{"s":"CNO","t":"clatt","b":12,"E":530.25,"v":54.7},{"s":"CNO","t":"clatt","b":12,"E":530.15,"v":69.9},{"s":"CNO","t":"clatt","b":12,"E":530.05,"v":86.4},{"s":"CNO","t":"clatt","b":12,"E":529.95,"v":102.4},{"s":"CNO","t":"clatt","b":12,"E":529.85,"v":115.8},{"s":"CNO","t":"clatt","b":12,"E":529.75,"v":124.9},{"s":"CNO","t":"clatt","b":12,"E":529.65,"v":128},{"s":"CNO","t":"clatt","b":12,"E":529.55,"v":125.9},{"s":"CNO","t":"clatt","b":12,"E":529.45,"v":119.9},{"s":"CNO","t":"clatt","b":12,"E":529.35,"v":110.5},{"s":"CNO","t":"clatt","b":12,"E":529.25,"v":98.8},{"s":"CNO","t":"clatt","b":12,"E":529.15,"v":85.7},{"s":"CNO","t":"clatt","b":12,"E":529.05,"v":72.3},{"s":"CNO","t":"clatt","b":12,"E":528.95,"v":59.6},{"s":"CNO","t":"clatt","b":12,"E":528.85,"v":48.2},{"s":"CNO","t":"clatt","b":12,"E":528.75,"v":38.6},{"s":"CNO","t":"clatt","b":12,"E":528.65,"v":30.8},{"s":"CNO","t":"clatt","b":12,"E":528.55,"v":24.9},{"s":"CNO","t":"clatt","b":12,"E":528.45,"v":20.5},{"s":"CNO","t":"clatt","b":12,"E":528.35,"v":17.3},{"s":"CNO","t":"clatt","b":12,"E":528.25,"v":15.2},{"s":"CNO","t":"clatt","b":12,"E":528.15,"v":14},{"s":"CNO","t":"clatt","b":12,"E":528.05,"v":13.1}
],
"bgl":[{"s":"ZnO","E":536,"v":316.5},{"s":"ZnO","E":526,"v":316.5},{"s":"ZAC","E":536,"v":158.5},{"s":"ZAC","E":526,"v":158.5},{"s":"CNO","E":536,"v":12},{"s":"CNO","E":526,"v":12}],
"rules":[{"E":533.05,"v":352,"v2":172},{"E":531.79,"v":392,"v2":184},{"E":530.35,"v":437,"v2":192},{"E":531.15,"v":245,"v2":32},{"E":529.65,"v":284,"v2":95}],
"lab":[
{"t":"O 1s","E":535.9,"v":419,"g":"k","k":"m"},{"t":"ZnO","E":535.92,"v":332,"g":"k","k":"m"},{"t":"ZAC-3","E":535.92,"v":177,"g":"k","k":"m"},{"t":"CNO","E":535.92,"v":27,"g":"k","k":"m"},
{"t":"O","E":534.14,"v":375,"g":"g","k":"m"},{"t":"-ZnO","E":533.22,"v":375,"g":"g","k":"m"},{"t":"Vac.","E":533.79,"v":369,"g":"g","k":"s"},
{"t":"O","E":529.51,"v":392,"g":"p","k":"m"},{"t":"-ZnO","E":528.64,"v":392,"g":"p","k":"m"},{"t":"Latt.","E":529.2,"v":385,"g":"p","k":"s"},
{"t":"O","E":534.4,"v":186,"g":"c","k":"m"},{"t":"Ads.","E":534.04,"v":181,"g":"c","k":"s"},
{"t":"O","E":533.41,"v":67,"g":"o","k":"m"},{"t":"-CNO","E":532.55,"v":67,"g":"o","k":"m"},{"t":"Vac.","E":533.07,"v":60,"g":"o","k":"s"},
{"t":"O","E":528.98,"v":67,"g":"b","k":"m"},{"t":"-CNO","E":528.09,"v":67,"g":"b","k":"m"},{"t":"Latt.","E":528.67,"v":60,"g":"b","k":"s"}
]
},
"encoding":{
"x":{"field":"E","type":"quantitative","scale":{"domain":[536,526],"nice":false,"zero":false},
"axis":{"values":[536,535,534,533,532,531,530,529,528,527,526],"labelExpr":"datum.value % 2 === 0 ? datum.label : ''",
"tickSize":{"condition":{"test":"datum.value % 2 === 0","value":7},"value":4},"tickWidth":2,"tickColor":"black","domain":false,"grid":false,
"labelFont":"Liberation Serif","labelFontSize":25,"labelFontWeight":"bold","labelColor":"black","labelPadding":5,
"title":"Binding energy (eV)","titleFont":"Liberation Serif","titleFontSize":26,"titleFontWeight":"bold","titleColor":"black","titlePadding":1}},
"y":{"field":"v","type":"quantitative","scale":{"domain":[0,449],"nice":false,"zero":false},
"axis":{"labels":false,"ticks":false,"domain":false,"grid":false,"title":"Intensity (a.u.)","titleFont":"Liberation Serif","titleFontSize":26,"titleFontWeight":"bold","titleColor":"black","titlePadding":10,"titleY":232}}
},
"layer":[
{"data":{"name":"cmp"},"transform":[{"filter":"datum.t === 'ads'"}],
"mark":{"type":"area","fillOpacity":0.85,"fill":{"gradient":"linear","x1":0,"y1":0,"x2":0,"y2":1,"stops":[{"offset":0,"color":"#16c3c6"},{"offset":1,"color":"#eafbfb"}]},"line":{"color":"#2cc9cc","strokeWidth":1.5}},
"encoding":{"y2":{"field":"b"},"detail":{"field":"s"}}},
{"data":{"name":"cmp"},"transform":[{"filter":"datum.t === 'vac'"}],
"mark":{"type":"area","fillOpacity":0.85,"fill":{"gradient":"linear","x1":0,"y1":0,"x2":0,"y2":1,"stops":[{"offset":0,"color":"#7dbd33"},{"offset":1,"color":"#f4faec"}]},"line":{"color":"#8cc63f","strokeWidth":1.5}},
"encoding":{"y2":{"field":"b"},"detail":{"field":"s"}}},
{"data":{"name":"cmp"},"transform":[{"filter":"datum.t === 'cvac'"}],
"mark":{"type":"area","fillOpacity":0.85,"fill":{"gradient":"linear","x1":0,"y1":0,"x2":0,"y2":1,"stops":[{"offset":0,"color":"#ec6a2e"},{"offset":1,"color":"#fdeee6"}]},"line":{"color":"#ef7040","strokeWidth":1.5}},
"encoding":{"y2":{"field":"b"},"detail":{"field":"s"}}},
{"data":{"name":"cmp"},"transform":[{"filter":"datum.t === 'latt'"}],
"mark":{"type":"area","fillOpacity":0.85,"fill":{"gradient":"linear","x1":0,"y1":0,"x2":0,"y2":1,"stops":[{"offset":0,"color":"#a45fe4"},{"offset":1,"color":"#f6effd"}]},"line":{"color":"#b47ae9","strokeWidth":1.5}},
"encoding":{"y2":{"field":"b"},"detail":{"field":"s"}}},
{"data":{"name":"cmp"},"transform":[{"filter":"datum.t === 'clatt'"}],
"mark":{"type":"area","fillOpacity":0.85,"fill":{"gradient":"linear","x1":0,"y1":0,"x2":0,"y2":1,"stops":[{"offset":0,"color":"#2e78dd"},{"offset":1,"color":"#eef4fd"}]},"line":{"color":"#3a84e2","strokeWidth":1.5}},
"encoding":{"y2":{"field":"b"},"detail":{"field":"s"}}},
{"data":{"name":"bgl"},"mark":{"type":"line","color":"#dca584","strokeWidth":2},"encoding":{"detail":{"field":"s"}}},
{"data":{"name":"obs"},"transform":[{"fold":["ZnO","ZAC","CNO"],"as":["s","v"]}],
"mark":{"type":"point","shape":"circle","filled":true,"size":80,"strokeWidth":0,"opacity":1,"clip":true,
"fill":{"gradient":"radial","x1":0.45,"y1":0.33,"r1":0,"x2":0.5,"y2":0.5,"r2":0.5,"stops":[{"offset":0,"color":"#ffffff"},{"offset":0.18,"color":"#d6d6d6"},{"offset":0.42,"color":"#3c3c3c"},{"offset":0.7,"color":"#050505"},{"offset":1,"color":"#000000"}]}},
"encoding":{"detail":{"field":"s"}}},
{"data":{"name":"fit"},"transform":[{"fold":["ZnO","ZAC","CNO"],"as":["s","v"]}],
"mark":{"type":"line","color":"#f05a22","strokeWidth":2.5},"encoding":{"detail":{"field":"s"}}},
{"data":{"name":"rules"},"mark":{"type":"rule","color":"black","strokeWidth":2.5,"strokeDash":[6,4]},"encoding":{"y2":{"field":"v2"}}},
{"data":{"name":"lab"},"transform":[{"filter":"datum.k === 'm'"}],
"mark":{"type":"text","align":"left","baseline":"alphabetic","font":"Liberation Serif","fontSize":26,"fontWeight":"bold"},
"encoding":{"text":{"field":"t"},"color":{"field":"g","type":"nominal","legend":null,"scale":{"domain":["k","g","p","c","o","b"],"range":["#000000","#8cc63f","#b170e8","#17c4c8","#ee6a2f","#2b7de0"]}}}},
{"data":{"name":"lab"},"transform":[{"filter":"datum.k === 's'"}],
"mark":{"type":"text","align":"left","baseline":"alphabetic","font":"Liberation Serif","fontSize":20,"fontWeight":"bold","fontStyle":"italic"},
"encoding":{"text":{"field":"t"},"color":{"field":"g","type":"nominal","legend":null}}}
]
}
